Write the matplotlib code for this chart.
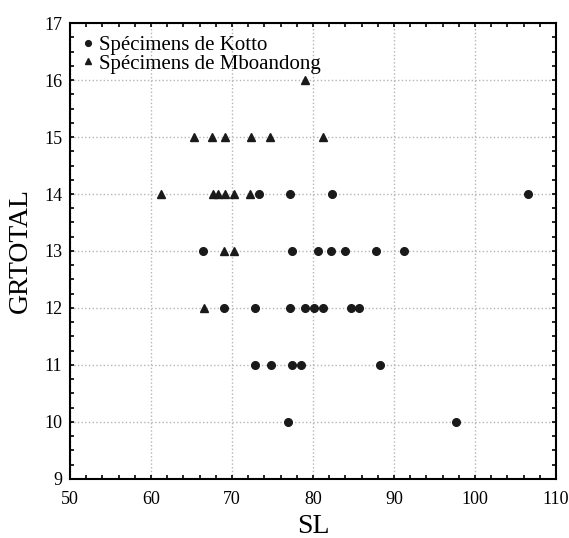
import matplotlib
matplotlib.use('Agg')
import matplotlib.pyplot as plt
from matplotlib.ticker import MultipleLocator

plt.rcParams['font.family'] = ['Liberation Serif', 'DejaVu Serif']

# Kotto specimens (SL, GRTOTAL)
kotto_sl = [73.4, 77.2, 82.4, 106.5,
            66.4, 77.4, 80.6, 82.2, 83.9, 87.8, 91.2,
            69.0, 72.9, 77.2, 79.0, 80.1, 81.3, 84.7, 85.7,
            72.8, 74.8, 77.4, 78.5, 88.3,
            76.9, 97.7]
kotto_gr = [14, 14, 14, 14,
            13, 13, 13, 13, 13, 13, 13,
            12, 12, 12, 12, 12, 12, 12, 12,
            11, 11, 11, 11, 11,
            10, 10]

# Mboandong specimens
mbo_sl = [79.0,
          65.3, 67.5, 69.2, 72.4, 74.7, 81.3,
          61.2, 67.6, 68.3, 69.2, 70.3, 72.2,
          69.0, 70.3,
          66.6]
mbo_gr = [16,
          15, 15, 15, 15, 15, 15,
          14, 14, 14, 14, 14, 14,
          13, 13,
          12]

fig = plt.figure(figsize=(5.69, 5.38), dpi=100)
ax = fig.add_axes([0.123, 0.11, 0.854, 0.847])

ax.plot(kotto_sl, kotto_gr, 'o', color='#1a1a1a', markersize=5.5,
        label='Spécimens de Kotto', zorder=3)
ax.plot(mbo_sl, mbo_gr, '^', color='#1a1a1a', markersize=5.5,
        label='Spécimens de Mboandong', zorder=3)

ax.set_xlim(50, 110)
ax.set_ylim(9, 17)
ax.xaxis.set_major_locator(MultipleLocator(10))
ax.xaxis.set_minor_locator(MultipleLocator(2))
ax.yaxis.set_major_locator(MultipleLocator(1))
ax.yaxis.set_minor_locator(MultipleLocator(0.25))
ax.tick_params(which='both', direction='in', top=True, right=True,
               length=3, width=1.2, labelsize=13, colors='black')
ax.tick_params(axis='x', pad=9)
ax.tick_params(axis='y', pad=5.5)
ax.grid(True, which='major', linestyle=':', color='#b5b5b5', linewidth=1)
for s in ax.spines.values():
    s.set_linewidth(1.5)

ax.set_xlabel('SL', fontsize=20, labelpad=4)
ax.set_ylabel('GRTOTAL', fontsize=20, labelpad=8)

ax.legend(loc='upper left', frameon=False, fontsize=15, handlelength=0.5,
          handletextpad=0.3, borderaxespad=0.5, labelspacing=-0.05,
          markerscale=0.75, borderpad=0.1)

plt.savefig('out.png', dpi=100)
